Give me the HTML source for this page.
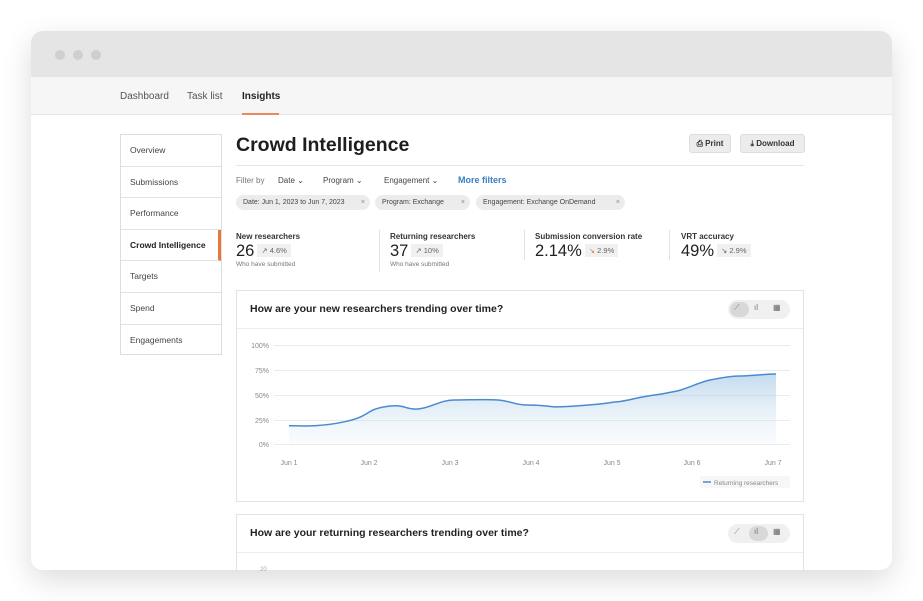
<!DOCTYPE html>
<html><head><meta charset="utf-8"><style>
*{box-sizing:border-box;margin:0;padding:0}
body{width:923px;height:601px;background:#fff;font-family:"Liberation Sans",sans-serif;position:relative;overflow:hidden;color:#222}
.win{position:absolute;left:31px;top:31px;width:861px;height:539px;border-radius:12px;background:#fff;box-shadow:0 10px 30px rgba(0,0,0,.14);overflow:hidden}
.top{position:absolute;left:0;top:0;width:861px;height:46px;background:#e5e5e5}
.dot{position:absolute;top:19px;width:10px;height:10px;border-radius:50%;background:#cfcfcf}
.nav{position:absolute;left:0;top:46px;width:861px;height:38px;background:#f6f6f6;border-bottom:1px solid #e6e6e6;font-size:10px;color:#555}
.nav span{position:absolute;top:14px}
.abs{position:absolute}
.side{position:absolute;left:89px;top:103px;width:102px;height:221px;border:1px solid #ddd;background:#fff}
.side div{height:31.6px;border-bottom:1px solid #e2e2e2;font-size:8.5px;color:#444;padding:10px 0 0 9px}
.btn{position:absolute;top:103px;height:19px;background:#ececec;border:1px solid #ddd;border-radius:3px;font-size:8px;font-weight:bold;color:#333;text-align:center;line-height:17px}
.chip{position:absolute;top:164px;height:15px;background:#ececec;border-radius:8px;font-size:7px;color:#444;line-height:15px;padding-left:7px}
.kl{font-size:8px;font-weight:bold;color:#333}
.kv{font-size:16.5px;color:#222;margin-top:1px}
.kb{display:inline-block;background:#f0f0f0;font-size:7.5px;color:#666;padding:2px 4px;vertical-align:3px;margin-left:3px}
.ks{font-size:6.5px;color:#777}
.card{position:absolute;left:205px;width:568px;border:1px solid #e2e2e2;background:#fff}
.tog{position:absolute;right:13px;top:9px;width:62px;height:19px;border-radius:10px;background:#f0f0f0}
</style></head><body>
<div class="win">
<div class="top"><div class="dot" style="left:24px"></div><div class="dot" style="left:42px"></div><div class="dot" style="left:60px"></div></div>
<div class="nav"><span style="left:89px">Dashboard</span><span style="left:156px">Task list</span><span style="left:211px;font-weight:bold;color:#222">Insights</span>
<div class="abs" style="left:211px;top:36px;width:37px;height:2px;background:#e98a5a"></div></div>
<div class="side"><div>Overview</div><div>Submissions</div><div>Performance</div><div style="font-weight:bold;color:#222;border-right:3px solid #e8773f">Crowd Intelligence</div><div>Targets</div><div>Spend</div><div style="border-bottom:none">Engagements</div></div>
<div class="abs" style="left:205px;top:103px;font-size:19.5px;font-weight:bold;color:#1e1e1e">Crowd Intelligence</div>
<div class="btn" style="left:658px;width:42px">⎙ Print</div>
<div class="btn" style="left:709px;width:65px">⤓ Download</div>
<div class="abs" style="left:205px;top:134px;width:568px;height:1px;background:#e6e6e6"></div>
<div class="abs" style="left:205px;top:145px;font-size:8px;color:#777">Filter by</div>
<div class="abs" style="left:247px;top:145px;font-size:8px;color:#444">Date ⌄</div>
<div class="abs" style="left:292px;top:145px;font-size:8px;color:#444">Program ⌄</div>
<div class="abs" style="left:353px;top:145px;font-size:8px;color:#444">Engagement ⌄</div>
<div class="abs" style="left:427px;top:144px;font-size:9px;font-weight:bold;color:#3a7fc4">More filters</div>
<div class="chip" style="left:205px;width:134px">Date: Jun 1, 2023 to Jun 7, 2023 <span style="position:absolute;right:5px;color:#888">×</span></div>
<div class="chip" style="left:344px;width:95px">Program: Exchange <span style="position:absolute;right:5px;color:#888">×</span></div>
<div class="chip" style="left:445px;width:149px">Engagement: Exchange OnDemand <span style="position:absolute;right:5px;color:#888">×</span></div>
<div class="abs" style="left:205px;top:201px"><div class="kl">New researchers</div><div class="kv">26<span class="kb">↗ 4.6%</span></div><div class="ks">Who have submitted</div></div>
<div class="abs" style="left:348px;top:199px;width:1px;height:42px;background:#e2e2e2"></div>
<div class="abs" style="left:359px;top:201px"><div class="kl">Returning researchers</div><div class="kv">37<span class="kb">↗ 10%</span></div><div class="ks">Who have submitted</div></div>
<div class="abs" style="left:493px;top:199px;width:1px;height:30px;background:#e2e2e2"></div>
<div class="abs" style="left:504px;top:201px"><div class="kl">Submission conversion rate</div><div class="kv">2.14%<span class="kb"><span style="color:#e07a3f">↘</span> 2.9%</span></div></div>
<div class="abs" style="left:638px;top:199px;width:1px;height:30px;background:#e2e2e2"></div>
<div class="abs" style="left:650px;top:201px"><div class="kl">VRT accuracy</div><div class="kv">49%<span class="kb">↘ 2.9%</span></div></div>
<div class="card" style="top:259px;height:212px">
<div class="abs" style="left:13px;top:12px;font-size:10.5px;font-weight:bold;color:#222">How are your new researchers trending over time?</div>
<div class="tog"><div class="abs" style="left:2px;top:2px;width:19px;height:15px;border-radius:8px;background:#d8d8d8"></div><span class="abs" style="left:6px;top:3px;font-size:8px;color:#777">⟋</span><span class="abs" style="left:26px;top:3px;font-size:8px;color:#777">ıl</span><span class="abs" style="left:45px;top:3px;font-size:8px;color:#666">▦</span></div>
<div class="abs" style="left:0;top:37px;width:566px;height:1px;background:#ececec"></div>
</div>
<div class="card" style="top:483px;height:60px">
<div class="abs" style="left:13px;top:12px;font-size:10.5px;font-weight:bold;color:#222">How are your returning researchers trending over time?</div>
<div class="tog"><div class="abs" style="left:21px;top:2px;width:19px;height:15px;border-radius:8px;background:#d8d8d8"></div><span class="abs" style="left:6px;top:3px;font-size:8px;color:#777">⟋</span><span class="abs" style="left:26px;top:3px;font-size:8px;color:#777">ıl</span><span class="abs" style="left:45px;top:3px;font-size:8px;color:#666">▦</span></div>
<div class="abs" style="left:0;top:37px;width:566px;height:1px;background:#ececec"></div>
</div>
</div>
<svg class="abs" style="left:0;top:0" width="923" height="601">
<defs><linearGradient id="g" x1="0" y1="0" x2="0" y2="1"><stop offset="0" stop-color="#9cc3e3" stop-opacity=".6"/><stop offset="1" stop-color="#dbe9f5" stop-opacity=".15"/></linearGradient></defs>
<g stroke="#ebebeb" stroke-width="1">
<line x1="274" y1="345.5" x2="790" y2="345.5"/><line x1="274" y1="370.5" x2="790" y2="370.5"/><line x1="274" y1="395.5" x2="790" y2="395.5"/><line x1="274" y1="420.5" x2="790" y2="420.5"/><line x1="274" y1="444.5" x2="790" y2="444.5"/></g>
<g font-family="Liberation Sans" font-size="7" fill="#888" text-anchor="end">
<text x="269" y="348">100%</text><text x="269" y="373">75%</text><text x="269" y="398">50%</text><text x="269" y="423">25%</text><text x="269" y="447">0%</text></g>
<g font-family="Liberation Sans" font-size="7" fill="#888" text-anchor="middle">
<text x="289" y="465">Jun 1</text><text x="369" y="465">Jun 2</text><text x="450" y="465">Jun 3</text><text x="531" y="465">Jun 4</text><text x="612" y="465">Jun 5</text><text x="692" y="465">Jun 6</text><text x="773" y="465">Jun 7</text></g>
<path d="M289,425.7 C305,426 320,427 345,421.7 S365,410 385,406.7 S405,410 418,409 S440,400 454,400 S485,399 498,400 S515,405 527,405 S545,406 553,406.7 S590,405 600,404 S612,402 618,401.7 S640,397 648,396 S668,393 677,391 S700,382 710,380 S730,376 739,376 S765,374 776,374 L776,444 L289,444 Z" fill="url(#g)"/>
<path d="M289,425.7 C305,426 320,427 345,421.7 S365,410 385,406.7 S405,410 418,409 S440,400 454,400 S485,399 498,400 S515,405 527,405 S545,406 553,406.7 S590,405 600,404 S612,402 618,401.7 S640,397 648,396 S668,393 677,391 S700,382 710,380 S730,376 739,376 S765,374 776,374" fill="none" stroke="#4a8ad0" stroke-width="1.5"/>
<rect x="700" y="476" width="90" height="12" fill="#f7f7f7"/>
<line x1="703" y1="482" x2="711" y2="482" stroke="#4a8ad0" stroke-width="1.5"/>
<text x="714" y="485" font-family="Liberation Sans" font-size="6.5" fill="#888">Returning researchers</text>
<text x="260" y="571" font-family="Liberation Sans" font-size="6" fill="#aaa">20</text>
</svg>
</body></html>
